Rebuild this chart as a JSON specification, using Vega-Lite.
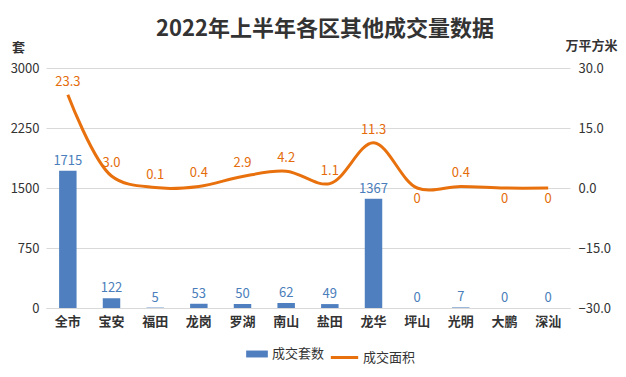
{
  "$schema": "https://vega.github.io/schema/vega-lite/v6.json",
  "width": 524,
  "height": 240,
  "autosize": {"type": "none"},
  "padding": {"left": 46, "top": 68, "right": 56, "bottom": 69},
  "background": "white",
  "title": {
    "text": "2022年上半年各区其他成交量数据",
    "anchor": "middle",
    "font": "Noto Sans CJK SC",
    "fontSize": 22,
    "fontWeight": "bold",
    "color": "#333333",
    "offset": -2,
    "dx": 17
  },
  "data": {
    "values": [
      {"区": "全市", "套数": 1715, "面积": 23.3, "面积标签": "23.3"},
      {"区": "宝安", "套数": 122, "面积": 3.0, "面积标签": "3.0"},
      {"区": "福田", "套数": 5, "面积": 0.1, "面积标签": "0.1"},
      {"区": "龙岗", "套数": 53, "面积": 0.4, "面积标签": "0.4"},
      {"区": "罗湖", "套数": 50, "面积": 2.9, "面积标签": "2.9"},
      {"区": "南山", "套数": 62, "面积": 4.2, "面积标签": "4.2"},
      {"区": "盐田", "套数": 49, "面积": 1.1, "面积标签": "1.1"},
      {"区": "龙华", "套数": 1367, "面积": 11.3, "面积标签": "11.3"},
      {"区": "坪山", "套数": 0, "面积": 0, "面积标签": "0"},
      {"区": "光明", "套数": 7, "面积": 0.4, "面积标签": "0.4"},
      {"区": "大鹏", "套数": 0, "面积": 0, "面积标签": "0"},
      {"区": "深汕", "套数": 0, "面积": 0, "面积标签": "0"}
    ]
  },
  "encoding": {
    "x": {
      "field": "区",
      "type": "nominal",
      "sort": null,
      "scale": {"paddingInner": 0.6, "paddingOuter": 0.3},
      "axis": {
        "title": null,
        "labelAngle": 0,
        "labelFont": "Noto Sans CJK SC",
        "labelFontSize": 13,
        "labelFontWeight": "bold",
        "labelColor": "#333333",
        "labelPadding": 7,
        "ticks": false,
        "domainColor": "#d9d9d9",
        "grid": false
      }
    }
  },
  "layer": [
    {
      "layer": [
        {
          "mark": {"type": "bar", "color": "#4f7fbf"},
          "encoding": {
            "y": {
              "field": "套数",
              "type": "quantitative",
              "scale": {"domain": [0, 3000]},
              "axis": {
                "values": [0, 750, 1500, 2250, 3000],
                "format": "d",
                "title": "套",
                "titleAngle": 0,
                "titleX": -28,
                "titleY": -21,
                "titleAlign": "center",
                "titleBaseline": "middle",
                "titleFont": "Noto Sans CJK SC",
                "titleFontSize": 13,
                "titleFontWeight": "bold",
                "titleColor": "#333333",
                "labelFont": "Noto Sans CJK SC",
                "labelFontSize": 13,
                "labelColor": "#333333",
                "labelPadding": 7,
                "domain": false,
                "ticks": false,
                "grid": true,
                "gridColor": "#d9d9d9"
              }
            },
            "color": {
              "datum": "成交套数",
              "scale": {"domain": ["成交套数"], "range": ["#4f7fbf"]},
              "legend": {
                "title": null,
                "orient": "none",
                "legendX": 199,
                "legendY": 274,
                "symbolType": "M-1,-0.32L1,-0.32L1,0.32L-1,0.32Z",
                "symbolSize": 470,
                "labelOffset": 3,
                "labelFont": "Noto Sans CJK SC",
                "labelFontSize": 13,
                "labelColor": "#333333"
              }
            }
          }
        },
        {
          "mark": {"type": "text", "dy": -10, "font": "Noto Sans CJK SC", "fontSize": 13, "color": "#4a7ebb"},
          "encoding": {
            "y": {"field": "套数", "type": "quantitative"},
            "text": {"field": "套数", "type": "quantitative"}
          }
        }
      ]
    },
    {
      "layer": [
        {
          "mark": {"type": "line", "interpolate": "catmull-rom", "strokeWidth": 3, "color": "#e8710e"},
          "encoding": {
            "y": {
              "field": "面积",
              "type": "quantitative",
              "scale": {"domain": [-30, 30]},
              "axis": {
                "orient": "right",
                "values": [-30, -15, 0, 15, 30],
                "format": ".1f",
                "title": "万平方米",
                "titleAngle": 0,
                "titleX": 21,
                "titleY": -23,
                "titleAlign": "center",
                "titleBaseline": "middle",
                "titleFont": "Noto Sans CJK SC",
                "titleFontSize": 13,
                "titleFontWeight": "bold",
                "titleColor": "#333333",
                "labelFont": "Noto Sans CJK SC",
                "labelFontSize": 13,
                "labelColor": "#333333",
                "labelPadding": 8,
                "domain": false,
                "ticks": false,
                "grid": false
              }
            },
            "stroke": {
              "datum": "成交面积",
              "scale": {"domain": ["成交面积"], "range": ["#e8710e"]},
              "legend": {
                "title": null,
                "orient": "none",
                "legendX": 283,
                "legendY": 274,
                "symbolType": "stroke",
                "symbolStrokeWidth": 3,
                "symbolSize": 750,
                "labelOffset": 3,
                "labelFont": "Noto Sans CJK SC",
                "labelFontSize": 13,
                "labelColor": "#333333"
              }
            }
          }
        },
        {
          "transform": [{"filter": "datum['面积'] > 0"}],
          "mark": {"type": "text", "dy": -13, "font": "Noto Sans CJK SC", "fontSize": 13, "color": "#e46c0a"},
          "encoding": {
            "y": {"field": "面积", "type": "quantitative"},
            "text": {"field": "面积标签", "type": "nominal"}
          }
        },
        {
          "transform": [{"filter": "datum['面积'] <= 0"}],
          "mark": {"type": "text", "dy": 11, "font": "Noto Sans CJK SC", "fontSize": 13, "color": "#e46c0a"},
          "encoding": {
            "y": {"field": "面积", "type": "quantitative"},
            "text": {"field": "面积标签", "type": "nominal"}
          }
        }
      ]
    }
  ],
  "resolve": {"scale": {"y": "independent", "color": "independent", "stroke": "independent"}},
  "config": {
    "view": {"stroke": null},
    "font": "Noto Sans CJK SC"
  }
}
